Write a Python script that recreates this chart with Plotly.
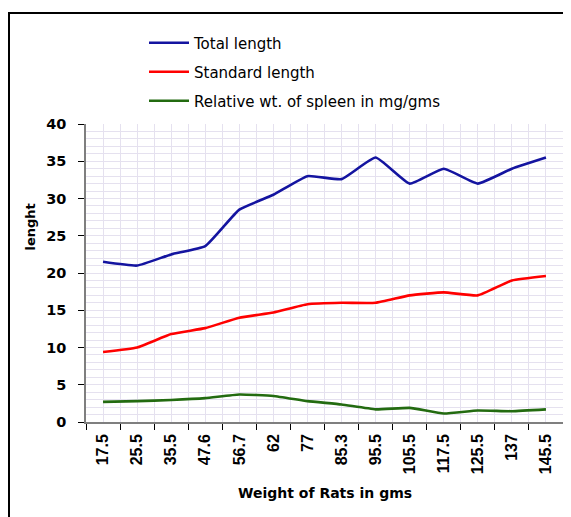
import plotly.graph_objects as go

weights = ["17.5", "25.5", "35.5", "47.6", "56.7", "62", "77", "85.3",
           "95.5", "105.5", "117.5", "125.5", "137", "145.5"]
total_length = [21.5, 21.0, 22.5, 23.6, 28.5, 30.5, 33.0, 32.6, 35.5, 32.0, 34.0, 32.0, 34.0, 35.5]
standard_length = [9.4, 10.0, 11.8, 12.6, 14.0, 14.7, 15.8, 16.0, 16.0, 17.0, 17.4, 17.0, 19.0, 19.6]
spleen_wt = [2.7, 2.8, 2.95, 3.2, 3.7, 3.5, 2.8, 2.35, 1.7, 1.9, 1.15, 1.55, 1.45, 1.7]

series = [
    ("Total length", total_length, "#1414a0"),
    ("Standard length", standard_length, "#ff0000"),
    ("Relative wt. of spleen in mg/gms", spleen_wt, "#236b10"),
]

FONT = "DejaVu Sans"
XFONT = "Liberation Sans"
GRID = "#e5e1ef"
AX = "#7f7f7f"

W, H = 563, 509
L, R, T, B = 78, 8, 116, 95
PW, PH = W - L - R, H - T - B

xs = list(range(len(weights)))
fig = go.Figure()
legend_names = ["legend", "legend2", "legend3"]
for i, (name, vals, col) in enumerate(series):
    fig.add_trace(go.Scatter(
        x=xs, y=vals, name=name, mode="lines",
        line=dict(color=col, width=2.6, shape="spline", smoothing=0.4),
        legend=legend_names[i],
    ))

leg_common = dict(xref="container", yref="container", xanchor="left", yanchor="middle",
                  bgcolor="rgba(0,0,0,0)", font=dict(family=FONT, size=15, color="#000"),
                  itemwidth=40)
leg_y = [35, 64, 93]
layout_legends = {}
for name, yy in zip(legend_names, leg_y):
    layout_legends[name] = dict(leg_common, x=136 / W, y=1 - yy / H)

fig.update_layout(
    width=W, height=H,
    margin=dict(l=L, r=R, t=T, b=B, autoexpand=False),
    paper_bgcolor="white", plot_bgcolor="white",
    showlegend=True,
    **layout_legends,
    xaxis=dict(
        range=[-0.5, len(weights) - 0.5],
        tickmode="array", tickvals=xs, ticktext=weights,
        ticks="", tickangle=-90,
        tickfont=dict(family=XFONT, size=16, color="#000", weight="bold"),
        showgrid=True, gridcolor=GRID, gridwidth=1,
        showline=True, linecolor=AX, linewidth=1.5,
        zeroline=False, ticklabelstandoff=4,
        minor=dict(tickvals=[v - 0.5 for v in xs] + [len(xs) - 0.5],
                   ticks="outside", ticklen=6, tickcolor="#000", tickwidth=1.2,
                   showgrid=True, gridcolor=GRID, gridwidth=1),
    ),
    yaxis=dict(
        range=[0, 40], tickmode="linear", tick0=0, dtick=5,
        ticks="outside", ticklen=6, tickcolor="#000", tickwidth=1.2,
        tickfont=dict(family=FONT, size=14.5, color="#000", weight="bold"),
        showgrid=True, gridcolor=GRID, gridwidth=1,
        showline=True, linecolor=AX, linewidth=1.5,
        zeroline=False, ticklabelstandoff=9,
        minor=dict(dtick=1, tick0=0, showgrid=True, gridcolor=GRID, gridwidth=1, ticks=""),
    ),
    annotations=[
        dict(text="<b>lenght</b>", textangle=-90, showarrow=False,
             xref="paper", yref="paper", x=(21.5 - L) / PW, y=(H - B - 219) / PH,
             xanchor="center", yanchor="middle",
             font=dict(family=FONT, size=13, color="#000")),
        dict(text="<b>Weight of Rats in gms</b>", showarrow=False,
             xref="paper", yref="paper", x=(317 - L) / PW, y=(H - B - 485) / PH,
             xanchor="center", yanchor="middle",
             font=dict(family=FONT, size=14, color="#000")),
    ],
)

# outer frame (left and top edges visible in the picture)
fig.add_shape(type="rect", xref="paper", yref="paper",
              x0=(1 - L) / PW, x1=1.3, y0=-0.6, y1=(H - B - 5) / PH,
              line=dict(color="#000", width=2), fillcolor="rgba(0,0,0,0)", layer="above")

fig.write_html("out.html")
